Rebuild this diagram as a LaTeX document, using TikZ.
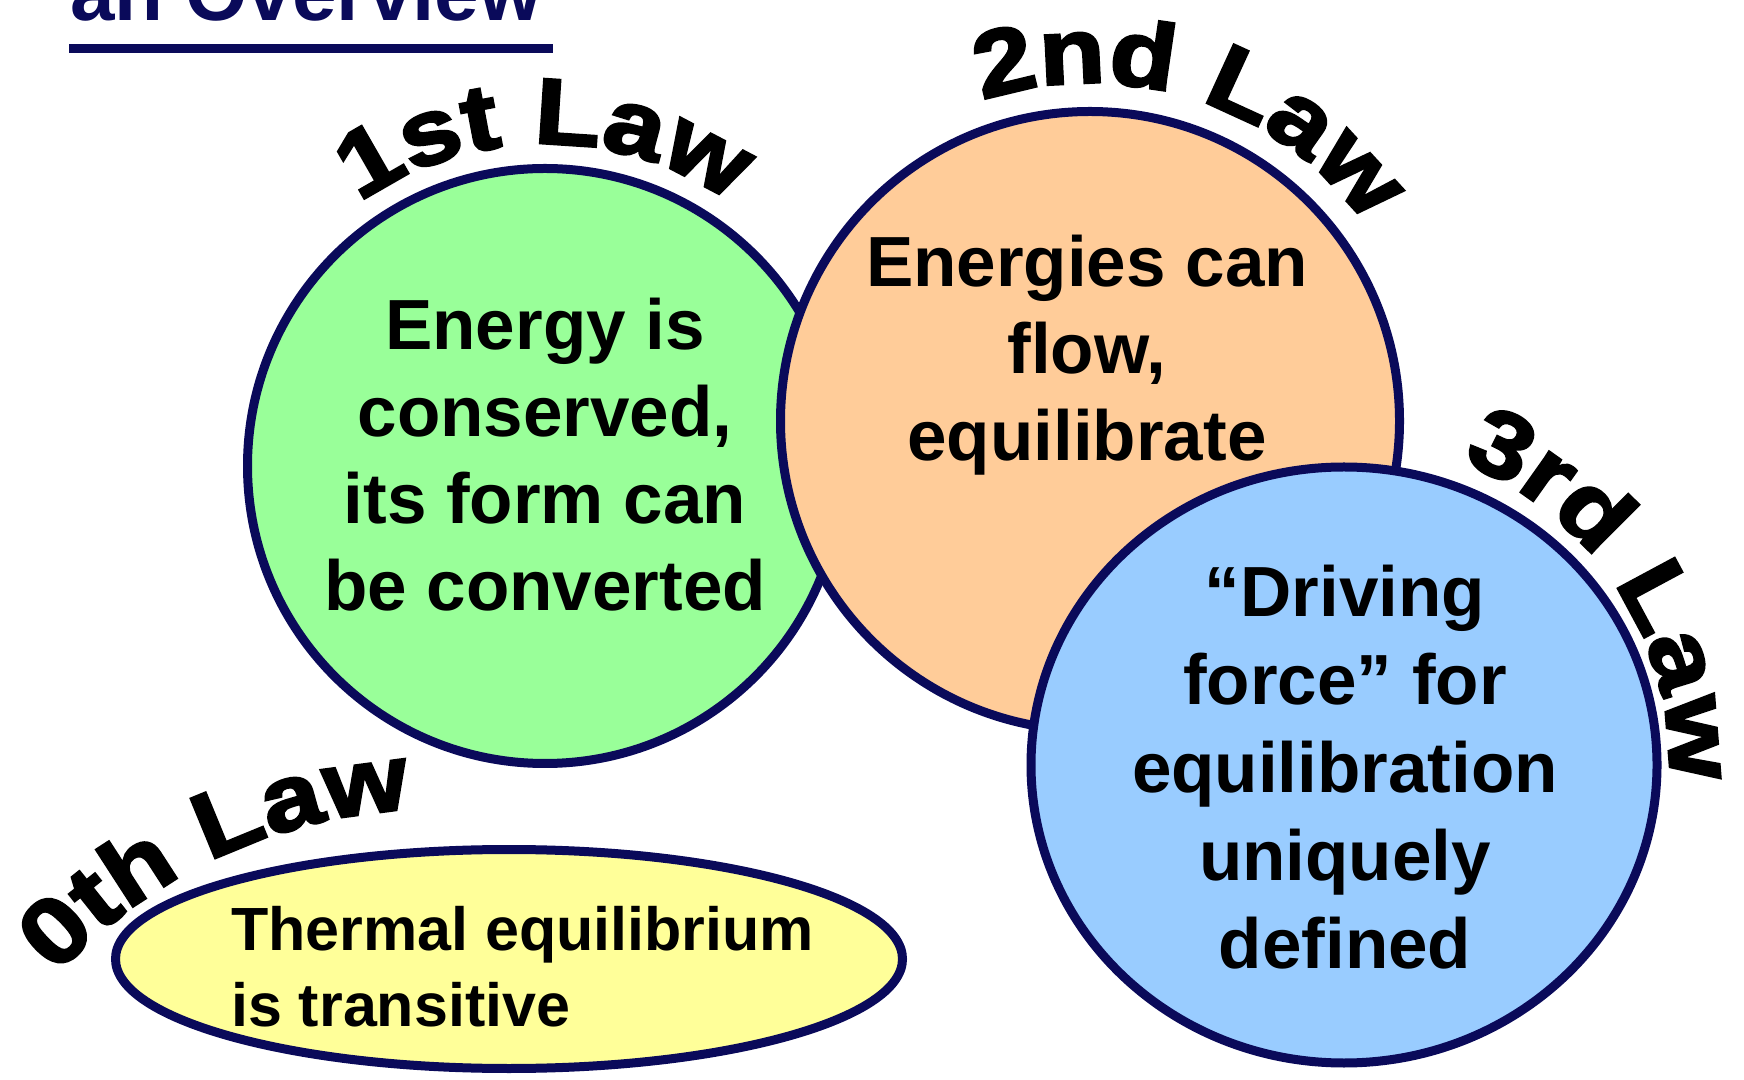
\documentclass[tikz,border=0pt]{standalone}
\usepackage{fontspec}
\setmainfont{Liberation Sans}
\newfontfamily\lawface{Liberation Sans}[FakeBold=3,FakeStretch=1.16]
\usetikzlibrary{decorations.text,shapes.geometric}
\definecolor{navy}{RGB}{10,10,90}
\definecolor{lgreen}{RGB}{153,255,153}
\definecolor{lorange}{RGB}{255,204,153}
\definecolor{lblue}{RGB}{153,204,255}
\definecolor{lyellow}{RGB}{255,255,153}
\newcommand\lawfont{\lawface\bfseries\fontsize{93pt}{93pt}\selectfont}
\begin{document}
\begin{tikzpicture}[x=1pt,y=1pt,
  disc/.style={circle, draw=navy, line width=9pt, inner sep=0pt},
  body/.style={font=\bfseries\fontsize{71pt}{71pt}\selectfont, anchor=base, inner sep=0pt, text=black},
  small/.style={font=\bfseries\fontsize{61pt}{61pt}\selectfont, anchor=base west, inner sep=0pt, text=black},
  lawlabel/.style={decorate, decoration={text along path, text align=center, text color=black}}]
\useasboundingbox (0,0) rectangle (1744,1079);
\fill[white] (0,0) rectangle (1744,1079);

% title
\node[font=\bfseries\fontsize{80pt}{80pt}\selectfont, text=navy, anchor=base west, inner sep=0pt] (title) at (70,1058) {an Overview};
\draw[navy, line width=9pt] (69,1030) -- (553,1030);

% circles
\node[disc, fill=lgreen, minimum size=595pt] (green) at (545,613) {};
\node[disc, fill=lorange, minimum size=619pt] (orange) at (1090,658) {};
\node[ellipse, draw=navy, line width=9pt, inner sep=0pt, fill=lblue, minimum width=626pt, minimum height=596pt] (blue) at (1344,314) {};
\node[ellipse, draw=navy, line width=9pt, fill=lyellow, minimum width=787pt, minimum height=219pt, inner sep=0pt] (yellow) at (509,120) {};

% curved labels
\path[lawlabel, decoration={text={|\lawfont|1st Law}}] (green.center) ++(140:322pt) arc[start angle=140, end angle=40, radius=322pt];
\path[lawlabel, decoration={text={|\lawfont|2nd Law}}] (orange.center) ++(122:338pt) arc[start angle=122, end angle=22, radius=338pt];
\path[lawlabel, decoration={text={|\lawfont|3rd Law}}] (blue.center) ++(83:325pt) arc[start angle=83, end angle=-17, radius=325pt];
\coordinate (zc) at (437,-250);
\path[lawlabel, decoration={text={|\lawfont|0th Law}}] (zc) ++(150:520pt) arc[start angle=150, end angle=80, radius=520pt];

% green text
\node[body] (g1) at (545,729) {Energy is};
\node[body] (g2) at (545,642) {conserved,};
\node[body] (g3) at (545,555) {its form can};
\node[body] (g4) at (545,468) {be converted};

% orange text
\node[body] (o1) at (1087,792) {Energies can};
\node[body] (o2) at (1087,705) {flow,};
\node[body] (o3) at (1087,618) {equilibrate};

% blue text
\node[body] (b1) at (1345,462) {“Driving};
\node[body] (b2) at (1345,374) {force” for};
\node[body] (b3) at (1345,286) {equilibration};
\node[body] (b4) at (1345,199) {uniquely};
\node[body] (b5) at (1345,111) {defined};

% yellow text
\node[small] (y1) at (231,129) {Thermal equilibrium};
\node[small] (y2) at (231,53) {is transitive};
\end{tikzpicture}
\end{document}
